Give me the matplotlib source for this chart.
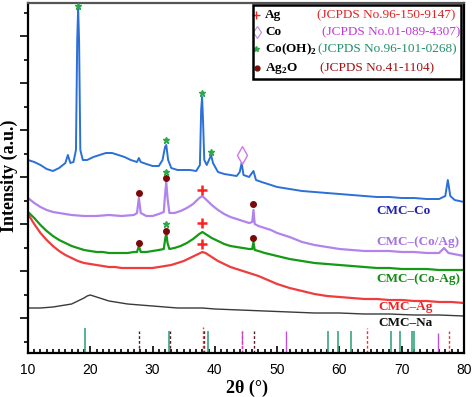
import numpy as np
import matplotlib
matplotlib.use("Agg")
from matplotlib import pyplot as plt
from matplotlib.patches import Rectangle

plt.rcParams['font.family'] = ['Liberation Serif', 'DejaVu Serif']
plt.rcParams['mathtext.fontset'] = 'custom'
plt.rcParams['mathtext.bf'] = 'Liberation Serif:bold'
plt.rcParams['mathtext.rm'] = 'Liberation Serif'

# ---- data (2theta in degrees, intensity in a.u. incl. offset) ----
tt_co = [10, 11, 12, 13, 14, 15, 16, 16.4, 16.8, 17.3, 17.7, 17.9, 18.05, 18.2, 18.4, 18.8,
         19.5, 20.5, 21.5, 22.5, 23.5, 24.5, 25.5, 26.5, 27.5, 27.8, 28.1, 29, 30, 31, 31.6,
         32.0, 32.2, 32.5, 33, 34, 35, 36, 37, 37.6, 37.8, 37.95, 38.1, 38.3, 38.7, 39.2, 39.4,
         39.7, 40.5, 41.5, 42.5, 43.5, 44.0, 44.3, 44.6, 45.5, 46.2, 46.6, 47.5, 48.5, 50, 52,
         54, 56, 58, 60, 62, 64, 66, 68, 70, 72, 74, 76, 77, 77.4, 77.8, 78.5, 80]
i_co = [193, 191, 188, 184, 182, 185, 190, 198, 190, 191, 203, 313, 345, 313, 203, 193,
        193, 196, 198, 200, 200, 198, 196, 193, 191, 195, 191, 189, 187, 187, 193,
        206, 208, 193, 185, 183, 183, 183, 182, 188, 243, 256, 233, 193, 188, 195, 198,
        190, 181, 179, 178, 177, 181, 190, 178, 176, 182, 173, 171, 169, 166, 164,
        162, 161, 160, 159, 158, 157, 156, 156, 155, 155, 154, 154, 157, 173, 157, 153, 151]

tt_coag = [10, 11, 12, 13, 14, 15, 17, 19, 21, 23, 25, 27, 27.5, 27.8, 28.1, 29, 30, 31, 31.8,
           32.0, 32.2, 32.4, 32.7, 33.5, 34.5, 35.5, 36.5, 37.5, 38.0, 38.5, 39.5, 40.5, 41.5,
           42.5, 43.5, 44.5, 45.5, 46.0, 46.2, 46.4, 47, 48, 49, 50, 52, 54, 56, 58, 60, 62,
           64, 66, 68, 70, 72, 74, 76, 76.8, 77.5, 80]
i_coag = [155, 150, 146, 143, 141, 140, 138, 137, 137, 138, 137, 138, 140, 155, 140, 137, 137,
          139, 141, 158, 171, 155, 140, 140, 142, 145, 149, 155, 157, 154, 148, 143, 139,
          136, 134, 132, 130, 131, 143, 129, 127, 125, 123, 120, 116, 111, 108, 106, 104, 103,
          102, 102, 102, 101, 101, 100, 100, 105, 100, 97]

tt_comag = [10, 11, 12, 13, 14, 15, 16, 17, 18, 19, 20, 21, 22, 23, 24, 25, 26, 27, 27.5, 27.8,
            28.1, 29, 30, 31, 31.8, 32.0, 32.2, 32.4, 32.7, 33.5, 34.5, 35.5, 36.5, 37.5, 38.0,
            38.5, 39.5, 40.5, 41.5, 42.5, 43.5, 44.5, 45.5, 46.0, 46.2, 46.4, 47, 48, 50, 52,
            54, 56, 58, 60, 62, 64, 66, 68, 70, 72, 74, 76, 78, 80]
i_comag = [141, 135, 128, 122, 117, 113, 110, 107, 105, 103, 102, 101, 101, 100, 100, 100, 100,
           101, 101, 107, 101, 101, 102, 103, 104, 113, 120, 110, 104, 105, 107, 110, 114, 119,
           121, 119, 115, 112, 109, 107, 106, 105, 104, 104, 111, 103, 102, 100, 97, 94,
           92, 90, 89, 88, 87, 86, 85, 85, 84, 84, 84, 83, 83, 83]

tt_ag = [10, 11, 12, 13, 14, 15, 16, 17, 18, 19, 20, 21, 22, 23, 24, 25, 26, 28, 30, 31, 32,
         33, 34, 35, 36, 37, 38, 38.5, 39.5, 40.5, 41.5, 42.5, 43.5, 44.5, 45.5, 47, 48.5, 50,
         52, 54, 56, 58, 60, 62, 64, 66, 68, 70, 72, 74, 76, 78, 80]
i_ag = [139, 129, 120, 113, 107, 102, 98, 95, 92, 90, 89, 88, 87, 86, 86, 85, 85, 85, 85, 86, 87,
        88, 90, 92, 95, 98, 101, 100, 96, 92, 89, 86, 84, 82, 80, 77, 73, 69,
        65, 62, 59, 57, 56, 55, 54, 54, 53, 53, 52, 52, 51, 51, 50]

tt_na = [10, 12, 14, 16, 17, 18, 19, 19.5, 20, 20.5, 21, 22, 23, 24, 25, 26, 28, 30, 32, 34, 36,
         38, 40, 44, 48, 52, 56, 60, 64, 68, 72, 76, 80]
i_na = [45, 45, 46, 48, 49, 52, 55, 57, 58, 57, 56, 54, 52, 51, 50, 49, 48, 47, 46, 45, 45,
        45, 44, 43, 42, 41, 40, 40, 39, 39, 38, 38, 37]

# reference patterns (stick positions and heights)
ref_cooh2 = [19.1, 32.6, 38.9, 58.1, 59.7, 61.8, 68.3, 69.8, 71.6, 72.0]
h_cooh2 = [25, 22, 22, 22, 22, 22, 22, 22, 22, 22]
ref_ag = [38.1, 44.3, 64.5, 77.6]
h_ag = [26, 22, 25, 22]
ref_co = [44.4, 51.5, 75.8]
h_co = [22, 22, 20]
ref_ag2o = [27.8, 32.8, 38.2, 46.3]
h_ag2o = [22, 22, 24, 22]

# peak markers
star_x = [18.05, 32.2, 37.95, 39.4, 32.2, 32.2]
star_y = [347, 213, 260, 201, 181, 129]
cross_x = [38.0, 38.0, 38.0]
cross_y = [163, 130, 109]
dot_x = [27.8, 32.2, 46.2, 27.8, 32.2, 46.2]
dot_y = [160, 175, 149, 110, 122, 115]
diam_x = [44.3]
diam_y = [198]

fig = plt.figure(figsize=(4.74, 3.97), dpi=100)
ax = fig.add_axes([28 / 474, 44 / 397, 436 / 474, 350 / 397])

ax.plot(tt_na, i_na, color='#3a3a3a', lw=1.0)
ax.plot(tt_ag, i_ag, color='#f03c3c', lw=1.6)
ax.plot(tt_comag, i_comag, color='#149a14', lw=1.6)
ax.plot(tt_coag, i_coag, color='#b283ea', lw=1.6)
ax.plot(tt_co, i_co, color='#2a70d8', lw=1.4)

ax.vlines(ref_cooh2, 0, h_cooh2, color='#3aa57c', lw=1.2)
ax.vlines(ref_ag2o, 0, h_ag2o, color='#5a1a2a', lw=1.0, linestyles=(0, (2, 1.5)))
ax.vlines(ref_ag, 0, h_ag, color='#ff2a2a', lw=1.0, linestyles=(0, (2, 1.5)))
ax.vlines(ref_co, 0, h_co, color='#c050d8', lw=1.0, linestyles=[(0, (2, 1)), 'solid', 'solid'])

ax.plot(star_x, star_y, ls='none', marker='*', ms=5, color='#2aa84a', clip_on=False, zorder=6)
ax.plot(cross_x, cross_y, ls='none', marker='+', ms=7, mew=1.8, color='#ff2020')
ax.plot(dot_x, dot_y, ls='none', marker='o', ms=4, color='#7a0a0a')
ax.plot(diam_x, diam_y, ls='none', marker='d', ms=9, mfc='none', mec='#cc77ee', mew=1)

# sample labels
lab_kw = dict(fontsize=9.5, fontweight='bold', va='center', ha='left')
ax.text(66.0, 142, 'CMC\u2013Co', color='#2323b0', **lab_kw)
ax.text(66.0, 111, 'CMC\u2013(Co/Ag)', color='#a472e4', **lab_kw)
ax.text(66.0, 74, 'CMC\u2013(Co-Ag)', color='#138a13', **lab_kw)
ax.text(66.3, 46, 'CMC\u2013Ag', color='#f02020', **lab_kw)
ax.text(66.3, 30, 'CMC\u2013Na', color='#111111', **lab_kw)

# legend box drawn by hand
def fx(px):
    return (px - 28) / 436.0

def fy(py):
    return (353 - py) / 350.0

ax.add_patch(Rectangle((fx(253), fy(79)), fx(461) - fx(253), fy(5) - fy(79),
                       transform=ax.transAxes, fill=False, ec='black', lw=1.8, zorder=5))
rows = [15, 32, 49, 68]
ax.plot([fx(256)], [fy(rows[0])], transform=ax.transAxes, marker='+', ms=6, mew=1.0,
        color='#ff2020', ls='none', clip_on=False)
ax.plot([fx(257)], [fy(rows[1])], transform=ax.transAxes, marker='d', ms=6, mfc='none',
        mec='#bb88ee', mew=0.8, ls='none', clip_on=False)
ax.plot([fx(256)], [fy(rows[2])], transform=ax.transAxes, marker='*', ms=4,
        color='#2aa84a', ls='none', clip_on=False)
ax.plot([fx(257)], [fy(rows[3])], transform=ax.transAxes, marker='o', ms=3.5,
        color='#7a0a0a', ls='none', clip_on=False)
names = ['Ag', 'Co', 'Co(OH)$_\\mathbf{2}$', 'Ag$_\\mathbf{2}$O']
cards = ['(JCPDS No.96-150-9147)', '(JCPDS No.01-089-4307)',
         '(JCPDS No.96-101-0268)', '(JCPDS No.41-1104)']
card_x = [317, 322, 318, 320]
card_c = ['#e32222', '#c03ad8', '#23906a', '#a01212']
for r, n, c, cx, cc in zip(rows, names, cards, card_x, card_c):
    ax.text(fx(265), fy(r), n, transform=ax.transAxes, fontsize=9.5, fontweight='bold',
            va='center', ha='left')
    ax.text(fx(cx), fy(r), c, transform=ax.transAxes, fontsize=9.5, color=cc,
            va='center', ha='left')

# axes styling
ax.set_xlim(10, 80)
ax.set_ylim(0, 350)
ax.set_xticks(np.arange(10, 81, 10))
ax.set_xticks(np.arange(10, 81, 1), minor=True)
ax.set_yticks(np.arange(35, 350, 47))
ax.set_yticks(np.arange(11.5, 350, 47), minor=True)
ax.set_yticklabels([])
ax.tick_params(axis='x', which='both', direction='in', top=False, width=1.2, pad=7,
               labelsize=10, labelfontfamily='Liberation Sans')
ax.tick_params(axis='x', which='major', length=5)
ax.tick_params(axis='x', which='minor', length=3)
ax.tick_params(axis='y', which='major', direction='out', length=6, width=1.2)
ax.tick_params(axis='y', which='minor', direction='out', length=3, width=1.2)
for s in ax.spines.values():
    s.set_linewidth(1.6)
ax.spines['top'].set_color('#555555')

ax.set_xlabel('2\u03b8 (\u00b0)', fontsize=13, fontweight='bold')
ax.xaxis.set_label_coords(0.502, -0.075)
ax.set_ylabel('Intensity (a.u.)', fontsize=13, fontweight='bold')
ax.yaxis.set_label_coords(-0.022, 0.506)

fig.savefig('out.png', dpi=100)
